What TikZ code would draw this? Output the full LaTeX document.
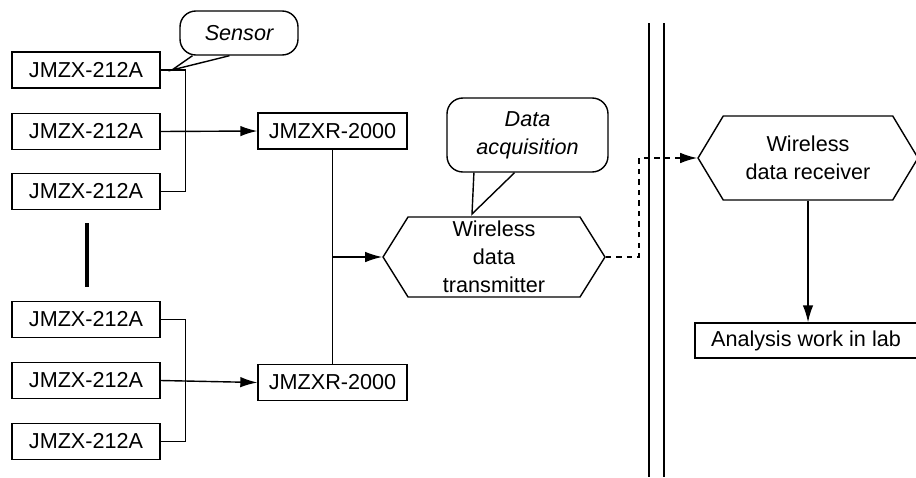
\documentclass[tikz,border=0pt]{standalone}
\usepackage{fontspec}
\setmainfont{Liberation Sans}
\usetikzlibrary{arrows.meta,shapes.symbols,calc}

\begin{document}
\begin{tikzpicture}[x=0.02cm,y=-0.02cm,>={Latex[length=3.4mm,width=2.1mm]},line width=0.8pt,
  font=\fontsize{12.3}{16}\selectfont,
  sensorbox/.style={draw,minimum width=2.96cm,minimum height=0.72cm,inner sep=0pt},
  unitbox/.style={draw,minimum width=2.98cm,minimum height=0.72cm,inner sep=0pt},
  hexbox/.style={draw,signal,signal to=west and east,signal pointer angle=#1,inner sep=0pt,align=center},
  notebox/.style={draw,rounded corners=9pt,align=center,font=\fontsize{12.3}{16}\selectfont\itshape,inner sep=0pt}]
\useasboundingbox (0,0) rectangle (916,477);
% sensors
\node[sensorbox] (s1) at (86,70) {JMZX-212A};
\node[sensorbox] (s2) at (86,131.5) {JMZX-212A};
\node[sensorbox] (s3) at (86,191.5) {JMZX-212A};
\node[sensorbox] (s4) at (86,319.5) {JMZX-212A};
\node[sensorbox] (s5) at (86,380.5) {JMZX-212A};
\node[sensorbox] (s6) at (86,441.5) {JMZX-212A};
\draw[line width=2pt] (87,223) -- (87,287);
% collectors
\node[unitbox] (r1) at (332.5,131) {JMZXR-2000};
\node[unitbox] (r2) at (332.5,382.5) {JMZXR-2000};
\draw (s1.east) -- ++(25,0) |- (s3.east);
\draw (s4.east) -- ++(25,0) |- (s6.east);
\draw[->] (s2.east) -- (r1.west);
\draw[->] (s5.east) -- (r2.west);
% transmitter and receiver
\node[hexbox=116,minimum width=4.44cm,minimum height=1.6cm] (tx) at (494,257) {Wireless\\data\\transmitter};
\node[hexbox=118,minimum width=4.4cm,minimum height=1.68cm] (rx) at (808,158) {Wireless\\data receiver};
\node[draw,minimum width=4.44cm,minimum height=0.7cm,inner sep=0pt] (lab) at (806,340.5) {Analysis work in lab};
\draw (r1.south) -- (r2.north);
\draw[->] (r1.south |- tx.west) -- (tx.west);
\draw[dashed,->] (tx.east) -- ++(33,0) |- (rx.west);
\draw[->] (rx.south) -- (rx.south |- lab.north);
% border
\draw (649,23) -- (649,477);
\draw (664,23) -- (664,477);
% notes
\node[notebox,minimum width=2.36cm,minimum height=0.88cm] (sensor) at (239,33) {Sensor};
\coordinate (sensortip) at (172,70);
\fill[white] ($(sensor.south west)!0.11!(sensor.south east)+(0,1)$) -- (sensortip) -- ($(sensor.south west)!0.42!(sensor.south east)+(0,1)$) -- cycle;
\draw ($(sensor.south west)!0.11!(sensor.south east)$) -- (sensortip) -- ($(sensor.south west)!0.42!(sensor.south east)$);
\node[notebox,minimum width=3.22cm,minimum height=1.48cm] (daq) at (527.5,135) {Data\\acquisition};
\coordinate (daqtip) at (472,214);
\fill[white] ($(daq.south west)!0.17!(daq.south east)+(0,1)$) -- (daqtip) -- ($(daq.south west)!0.42!(daq.south east)+(0,1)$) -- cycle;
\draw ($(daq.south west)!0.17!(daq.south east)$) -- (daqtip) -- ($(daq.south west)!0.42!(daq.south east)$);
\end{tikzpicture}
\end{document}
